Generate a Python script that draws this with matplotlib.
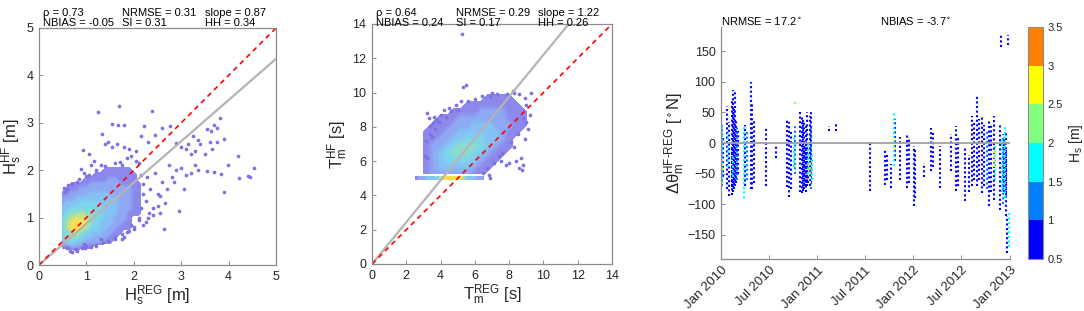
import numpy as np
import pandas as pd
import matplotlib
matplotlib.use("Agg")
import matplotlib.pyplot as plt
import matplotlib.dates as mdates
from matplotlib.colors import ListedColormap, BoundaryNorm, LinearSegmentedColormap, Normalize

plt.rcParams["font.family"] = ["Liberation Sans", "DejaVu Sans"]
plt.rcParams["mathtext.default"] = "regular"

W, H = 1084, 311

# ---------------- panel 1: Hs scatter (density, 0..9) ----------------
hs_grid_x = [0.5, 0.6, 0.7, 0.8, 0.9, 1.0, 1.1, 1.2, 1.3, 1.4, 1.5, 1.6, 1.7, 1.8, 1.9, 2.0, 2.1, 2.2]
hs_grid_y = [0.3, 0.4, 0.5, 0.6, 0.7, 0.8, 0.9, 1.0, 1.1, 1.2, 1.3, 1.4, 1.5, 1.6, 1.7, 1.8, 1.9, 2.0, 2.1]
hs_density = [  # top row = y 2.1
    "000000000000000000",
    "000000000111111000",
    "000000011111111100",
    "000001111122111100",
    "001111222222211110",
    "011122222222222110",
    "112222333322222110",
    "222333333333222110",
    "233344443333222110",
    "334444444333222110",
    "345565544333221110",
    "456776544332221000",
    "468987543332211000",
    "468986443322111000",
    "456754333221100000",
    "455543322211000000",
    "244332222110000000",
    "112211100000000000",
    "000000000000000000",
]
hs_out_x = [1.25, 1.69, 2.39, 1.55, 1.67, 1.8, 2.22, 1.32, 1.45, 1.4, 2.15, 2.77, 3.82, 3.7, 3.75,
            3.55, 3.62, 3.25, 3.35, 3.4, 3.15, 3.1, 3.0, 2.9, 3.9, 3.75, 3.6, 3.65, 3.5, 3.3,
            3.2, 4.19, 3.98, 4.54, 4.4, 4.45, 4.22, 3.7, 3.85, 3.9, 3.3, 3.35, 3.2, 3.55, 3.1,
            2.95, 2.63, 2.55, 2.5, 2.7, 2.85, 2.8, 3.0, 2.9, 2.6, 2.75, 2.45, 0.89, 0.92, 1.05,
            1.15, 1.1, 1.55, 1.65, 1.8, 1.9, 1.85, 1.95, 2.05, 2.3, 2.45, 2.6, 1.3, 1.6, 1.75,
            1.8, 1.9, 2.0, 2.2, 2.3, 2.4, 2.1, 0.7, 0.65, 0.8, 1.0, 0.95, 0.55, 0.6, 0.7,
            0.8, 0.95, 1.05, 1.2, 1.3, 1.6, 1.75, 2.1, 2.15, 2.2, 2.2, 2.25, 2.15, 2.1, 1.95,
            1.85, 1.6, 1.45, 1.2, 0.9, 0.6, 0.75, 2.35, 2.5, 2.65, 3.05, 2.4, 2.55, 0.52,
            0.62, 0.85, 1.0, 1.4, 1.7, 2.05, 2.28, 2.32, 2.25, 2.0, 1.75, 1.35, 1.1, 0.98]
hs_out_y = [3.22, 3.35, 3.24, 2.97, 2.95, 2.96, 2.93, 2.76, 2.6, 2.55, 2.72, 2.94, 3.11, 2.95, 2.9,
            2.87, 2.83, 2.72, 2.63, 2.55, 2.55, 2.45, 2.5, 2.58, 2.65, 2.6, 2.6, 2.45, 2.35, 2.4,
            2.35, 2.31, 2.12, 2.05, 1.88, 1.85, 1.83, 1.96, 1.93, 1.55, 2.1, 2.0, 1.95, 1.98, 1.9,
            1.13, 0.77, 1.45, 1.25, 1.6, 1.75, 1.85, 2.05, 2.0, 1.75, 2.1, 1.95, 2.02, 2.42, 2.35,
            2.2, 2.1, 2.5, 2.55, 2.5, 2.45, 2.25, 2.3, 2.4, 2.6, 2.75, 2.9, 0.55, 0.55, 0.55,
            0.6, 0.72, 0.8, 0.85, 1.0, 1.05, 0.95, 0.28, 0.3, 0.3, 0.4, 0.45, 1.55, 1.6, 1.7,
            1.75, 1.95, 1.9, 2.0, 2.1, 2.15, 2.1, 2.15, 1.9, 1.7, 1.5, 1.35, 1.2, 1.0, 0.85,
            0.7, 0.6, 0.5, 0.4, 0.35, 0.35, 0.33, 1.6, 1.5, 1.3, 1.6, 1.2, 1.1, 1.62,
            1.68, 1.82, 1.88, 2.08, 2.18, 2.2, 1.85, 1.1, 0.9, 0.75, 0.65, 0.48, 0.38, 0.36]
hs_stats = [["\u03c1 = 0.73", "NRMSE = 0.31", "slope = 0.87"],
            ["NBIAS = -0.05", "SI = 0.31", "HH = 0.34"]]
hs_slope = 0.87

# ---------------- panel 2: Tm scatter ----------------
tm_grid_x = [2.8, 3.2, 3.6, 4.0, 4.4, 4.8, 5.2, 5.6, 6.0, 6.4, 6.8, 7.2, 7.6, 8.0, 8.4, 8.8, 9.2]
tm_grid_y = [5.3, 5.7, 6.1, 6.5, 6.9, 7.3, 7.7, 8.1, 8.5, 8.9, 9.3, 9.7, 10.1]
tm_density = [  # top row = y 10.1
    "00000000000000000",
    "00000000001111000",
    "00000001111111100",
    "00000111122221110",
    "00011122222221110",
    "00111222333222110",
    "01112233333321100",
    "01122334443321000",
    "01223455543211000",
    "01234555432110000",
    "01234444321100000",
    "01233333211000000",
    "01222222110000000",
]
tm_band_x = [2.6, 2.8, 3.0, 3.2, 3.4, 3.6, 3.8, 4.0, 4.2, 4.4, 4.6, 4.8, 5.0, 5.2, 5.4, 5.6,
             5.8, 6.0, 6.2, 6.4]
tm_band_d = [1, 2, 2, 3, 3, 3, 4, 6, 8, 9, 9, 9, 9, 8, 5, 3, 3, 3, 2, 2]
tm_band_y = 5.0
tm_out_x = [5.27, 5.46, 5.31, 3.21, 3.36, 3.56, 3.75, 3.6, 4.0, 4.2, 4.5, 4.9, 5.2, 5.6, 6.0,
            6.4, 6.9, 7.3, 8.3, 8.6, 9.3, 8.9, 9.0, 9.2, 9.0, 9.1, 8.8, 7.8, 8.0, 8.6, 8.8,
            8.7, 8.3, 8.1, 7.6, 7.5, 8.4, 8.75, 6.8, 6.5, 6.86, 3.1, 3.2, 3.3, 7.9, 8.2, 7.0,
            3.4, 3.7, 3.9, 4.3, 4.6, 5.0, 6.7, 7.1, 7.4, 8.5, 8.9, 3.15, 3.5]
tm_out_y = [13.42, 10.42, 10.3, 8.79, 8.05, 8.2, 8.4, 8.6, 8.7, 9.0, 9.1, 9.3, 9.5, 9.5, 9.6,
            9.8, 9.8, 9.9, 10.0, 9.9, 10.0, 9.7, 9.3, 8.7, 8.3, 7.9, 8.5, 5.8, 5.9, 5.6, 5.8,
            6.2, 6.8, 7.1, 6.5, 6.0, 6.0, 5.5, 5.2, 5.3, 5.04, 6.3, 6.2, 8.5, 9.9, 10.1, 10.0,
            7.6, 7.9, 8.3, 8.6, 8.9, 9.0, 5.6, 5.9, 6.3, 7.6, 7.3, 7.2, 7.4]
tm_stats = [["\u03c1 = 0.64", "NRMSE = 0.29", "slope = 1.22"],
            ["NBIAS = 0.24", "SI = 0.17", "HH = 0.26"]]
tm_slope = 1.22

# ---------------- panel 3: direction difference streaks (date, min, max, Hs) ----------------
dir_dates = ["2010-01-02", "2010-01-04", "2010-01-06", "2010-01-08", "2010-01-05", "2010-01-24",
             "2010-01-28", "2010-02-02", "2010-02-10", "2010-02-14", "2010-02-18", "2010-02-22",
             "2010-02-26", "2010-03-02", "2010-02-16", "2010-03-07", "2010-03-28", "2010-04-03",
             "2010-04-08", "2010-04-24", "2010-04-28", "2010-05-05", "2010-06-20", "2010-07-30",
             "2010-09-08", "2010-09-16", "2010-09-24", "2010-10-03", "2010-10-08", "2010-10-10",
             "2010-10-28", "2010-11-03", "2010-11-08", "2010-11-13", "2010-11-18", "2010-11-23",
             "2010-11-28", "2010-12-03", "2010-12-08", "2010-12-05", "2010-12-10", "2010-12-12",
             "2011-02-13", "2011-03-14", "2011-07-21", "2011-09-16", "2011-09-22", "2011-10-08",
             "2011-10-18", "2011-10-22", "2011-10-20", "2011-11-10", "2011-12-08", "2011-12-14",
             "2012-01-03", "2012-01-08", "2012-02-08", "2012-03-06", "2012-03-16", "2012-04-12",
             "2012-05-22", "2012-06-12", "2012-06-18", "2012-07-15", "2012-07-28", "2012-08-10",
             "2012-08-18", "2012-08-30", "2012-09-06", "2012-09-18", "2012-09-26", "2012-10-05",
             "2012-10-14", "2012-10-22", "2012-10-31", "2012-11-06", "2012-11-03", "2012-11-24",
             "2012-11-30", "2012-12-06", "2012-12-12", "2012-12-18", "2012-12-20", "2012-12-27",
             "2012-11-28", "2012-12-24", "2010-02-12", "2010-02-20", "2010-11-16", "2010-11-26",
             "2012-12-15", "2012-12-09"]
dir_lo = [-76, -65, -70, -55, -45, -75, -40, -87, -85, -80, -75, -70,
          -65, -60, -55, -50, -90, -70, -60, -76, -75, -65, -70, -25,
          -72, -88, -75, -40, 64, -50, -80, -82, -78, -75, -80, -70,
          -50, -70, -65, -65, -75, -60, 19, 19, -79, -68, -60, -74,
          -38, -30, -10, -60, -74, -65, -104, -90, -55, -46, -40, -74,
          -46, -79, -70, -95, -80, -70, -60, -71, -60, -82, -70, -75,
          -104, -80, -93, -60, -40, -110, -80, -100, -90, -120, -180, -170,
          158, 161, -72, -68, -70, -65,
          -85, -80]
dir_hi = [49, 30, 30, 10, -25, 60, 20, 35, 70, 87, 55, 85,
          40, 30, -20, 20, 30, 30, 20, 100, 65, 40, 27, -5,
          40, 35, 20, 10, 70, 30, 50, 45, 40, 35, 30, 50,
          0, 45, 52, -30, 30, -20, 28, 35, 3, -11, -20, -35,
          52, 40, 10, 10, 16, 10, -5, -10, -33, 25, 20, -5,
          14, 28, 10, -8, -20, 44, 35, 79, 40, 44, 30, 20,
          38, 30, 44, 0, -10, 30, 10, 15, 30, -10, -120, -115,
          177, 177, -10, -15, -5, -10,
          20, 10]
dir_hs = [0.8, 1.7, 1.2, 0.8, 2.6, 0.8, 1.7, 0.8, 0.8, 0.8, 0.8, 0.8,
          0.8, 1.2, 1.7, 0.8, 1.7, 0.8, 1.2, 0.8, 0.8, 0.8, 0.8, 0.8,
          0.8, 0.8, 0.8, 1.7, 2.2, 1.2, 0.8, 0.8, 0.8, 0.8, 0.8, 0.8,
          1.7, 0.8, 0.8, 2.8, 1.2, 1.7, 0.8, 0.8, 0.8, 0.8, 0.8, 0.8,
          1.7, 0.8, 2.7, 0.8, 0.8, 0.8, 0.8, 0.8, 0.8, 0.8, 0.8, 0.8,
          0.8, 0.8, 0.8, 0.8, 0.8, 0.8, 0.8, 0.8, 0.8, 0.8, 0.8, 1.2,
          0.8, 0.8, 0.8, 1.7, 2.7, 0.8, 1.7, 1.2, 1.7, 0.8, 0.8, 1.7,
          0.8, 0.8, 0.8, 0.8, 0.8, 0.8,
          0.8, 0.8]
dir_stats = ["NRMSE = 17.2$^\\circ$", "NBIAS = -3.7$^\\circ$"]
hs_bounds = [0.5, 1.0, 1.5, 2.0, 2.5, 3.0, 3.5]
hs_bound_labels = ["0.5", "1", "1.5", "2", "2.5", "3", "3.5"]

# ---------------- styling ----------------
dens_cmap = LinearSegmentedColormap.from_list(
    "dens", ["#8d88ec", "#8ea8f3", "#84c2f4", "#7dd5ec", "#8adccd",
             "#aee0a0", "#d6e17a", "#f3e25c", "#f8dc4c"])
dens_norm = Normalize(1, 9)
dot_col = "#7d72e2"
jet6 = ListedColormap(["#0000ff", "#0080ff", "#00ffff", "#80ff80", "#ffff00", "#ff8000"])
jet_norm = BoundaryNorm(hs_bounds, jet6.N)
axis_col = "#8c8c8c"
txt_col = "#262626"

fig = plt.figure(figsize=(W / 100, H / 100), dpi=100)


def box(l, t, r, b):
    return [l / W, 1 - b / H, (r - l) / W, (b - t) / H]


def style(ax, size=8.5):
    for s in ax.spines.values():
        s.set_color(axis_col)
        s.set_linewidth(0.9)
    ax.tick_params(direction="in", length=3, width=0.7, color=axis_col,
                   labelcolor=txt_col, labelsize=size, pad=4)


def cloud(ax, gx, gy, rows):
    d = np.array([[int(c) for c in r] for r in rows], float)[::-1]
    ax.contourf(gx, gy, d, levels=np.linspace(0.5, 9.5, 46), cmap=dens_cmap, norm=dens_norm)


def stats(rows, xs):
    for i, row in enumerate(rows):
        for txt, x in zip(row, xs):
            fig.text(x / W, 1 - (13 + 10 * i) / H, txt, fontsize=8, color="black", va="center")


# panel 1
ax1 = fig.add_axes(box(39, 28, 276, 265))
cloud(ax1, hs_grid_x, hs_grid_y, hs_density)
ax1.scatter(hs_out_x, hs_out_y, s=7, color=dot_col, linewidths=0)
ax1.plot([0, 5], [0, 5 * hs_slope], color="#b4b4b4", lw=1.6)
ax1.plot([0, 5], [0, 5], color="red", lw=1.2, dashes=(3, 2.5))
ax1.set_xlim(0, 5)
ax1.set_ylim(0, 5)
ax1.set_xticks(range(6))
ax1.set_yticks(range(6))
ax1.set_xlabel("H$_s^{REG}$ [m]", fontsize=12, color=txt_col, labelpad=1)
ax1.set_ylabel("H$_s^{HF}$ [m]", fontsize=12, color=txt_col, labelpad=2)
style(ax1, 9)
stats(hs_stats, [43, 122, 205])

# panel 2
ax2 = fig.add_axes(box(372, 24, 612, 264))
cloud(ax2, tm_grid_x, tm_grid_y, tm_density)
ax2.scatter(tm_band_x, [tm_band_y] * len(tm_band_x), c=tm_band_d, cmap=dens_cmap,
            norm=dens_norm, s=8, marker="s", linewidths=0)
ax2.scatter(tm_out_x, tm_out_y, s=7, color=dot_col, linewidths=0)
ax2.plot([0, 14 / tm_slope], [0, 14], color="#b4b4b4", lw=1.6)
ax2.plot([0, 14], [0, 14], color="red", lw=1.2, dashes=(3, 2.5))
ax2.set_xlim(0, 14)
ax2.set_ylim(0, 14)
ax2.set_xticks(range(0, 15, 2))
ax2.set_yticks(range(0, 15, 2))
ax2.set_xlabel("T$_m^{REG}$ [s]", fontsize=12, color=txt_col, labelpad=1)
ax2.set_ylabel("T$_m^{HF}$ [s]", fontsize=12, color=txt_col, labelpad=2)
style(ax2, 9)
stats(tm_stats, [376, 456, 538])

# panel 3
ax3 = fig.add_axes(box(721, 27, 1010, 259))
order = np.argsort(dir_hs, kind="stable")
d3 = pd.to_datetime(dir_dates)
ax3.vlines([d3[i] for i in order], [dir_lo[i] for i in order], [dir_hi[i] for i in order],
           colors=[jet6(jet_norm(dir_hs[i])) for i in order], linewidth=1.5,
           linestyles=(0, (1.0, 1.2)))
x0, x1 = pd.Timestamp("2010-01-01"), pd.Timestamp("2013-01-01")
ax3.plot([x0, x1], [0, 0], color="#a0a0a0", lw=1.3)
ax3.set_xlim(x0, x1)
ax3.set_ylim(-190, 190)
ax3.set_yticks([-150, -100, -50, 0, 50, 100, 150])
ax3.xaxis.set_major_locator(mdates.MonthLocator(bymonth=[1, 7]))
ax3.xaxis.set_major_formatter(mdates.DateFormatter("%b %Y"))
ax3.spines["top"].set_visible(False)
ax3.spines["right"].set_visible(False)
style(ax3, 9)
for lab in ax3.get_xticklabels():
    lab.set_rotation(45)
    lab.set_ha("right")
    lab.set_rotation_mode("anchor")
    lab.set_fontsize(9.5)
ax3.set_ylabel("$\\Delta\\theta_m^{HF\u2010REG}$ [$^\\circ$N]", fontsize=12, color=txt_col, labelpad=0)
fig.text(721 / W, 1 - 21 / H, dir_stats[0], fontsize=8, va="center")
fig.text(880 / W, 1 - 21 / H, dir_stats[1], fontsize=8, va="center")

cax = fig.add_axes(box(1028, 27, 1043, 259))
cb = fig.colorbar(plt.cm.ScalarMappable(norm=jet_norm, cmap=jet6), cax=cax, ticks=hs_bounds)
cb.ax.set_yticklabels(hs_bound_labels)
cb.outline.set_edgecolor(axis_col)
cb.ax.tick_params(length=0, labelsize=8, labelcolor=txt_col, pad=3)
cb.set_label("H$_s$ [m]", fontsize=10, color=txt_col, labelpad=3)

fig.savefig("out.png", dpi=100)
